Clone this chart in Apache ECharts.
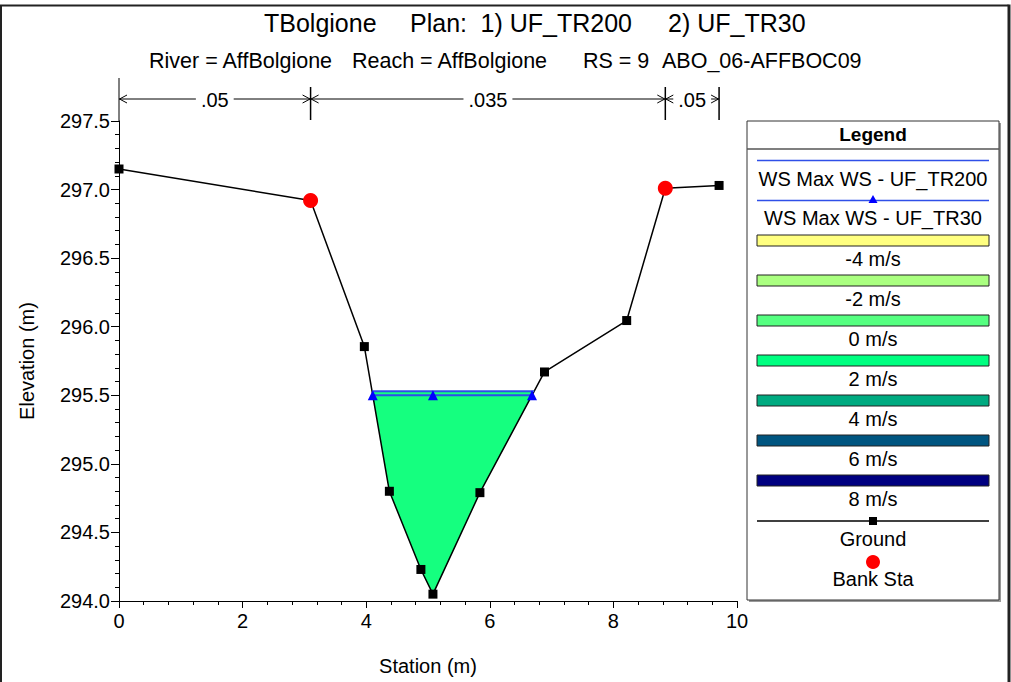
<!DOCTYPE html>
<html><head><meta charset="utf-8">
<script src="https://cdn.jsdelivr.net/npm/echarts@6/dist/echarts.min.js"></script>
<style>html,body{margin:0;padding:0;background:#fff}#c{width:1011px;height:682px}</style>
</head><body><div id="c"></div>
<script>
const FONT = '"Liberation Sans", Arial, Helvetica, sans-serif';

// ---- data ----
const stations   = [0, 3.10, 3.97, 4.375, 4.885, 5.08, 5.84, 6.885, 8.215, 8.84, 9.71];
const elevations = [297.15, 296.92, 295.855, 294.80, 294.23, 294.05, 294.79, 295.67, 296.045, 297.01, 297.03];
const bankStations   = [3.10, 8.84];
const bankElevations = [296.92, 297.01];
const wsTR200 = 295.53;
const wsTR30  = 295.50;
const nBreaks = [0, 3.10, 8.84, 9.71];
const nValues = ['.05', '.035', '.05'];
const titleParts = ['TBolgione', 'Plan:', '1) UF_TR200', '2) UF_TR30'];
const subtitleParts = ['River = AffBolgione', 'Reach = AffBolgione', 'RS = 9', 'ABO_06-AFFBOC09'];
const velocityLabels = ['-4 m/s', '-2 m/s', '0 m/s', '2 m/s', '4 m/s', '6 m/s', '8 m/s'];
const velocityColors = ['#ffff80', '#aaff80', '#55ff80', '#00ff80', '#00aa80', '#005580', '#000080'];

// ---- derived geometry ----
function wsEdges(ws) {
  let left = null, right = null, li = -1, ri = -1;
  for (let i = 0; i < stations.length - 1; i++) {
    const e0 = elevations[i], e1 = elevations[i + 1];
    if (left === null && e0 >= ws && e1 < ws) {
      left = stations[i] + (e0 - ws) / (e0 - e1) * (stations[i + 1] - stations[i]); li = i;
    }
    if (e0 < ws && e1 >= ws) {
      right = stations[i] + (ws - e0) / (e1 - e0) * (stations[i + 1] - stations[i]); ri = i;
    }
  }
  return { left, right, li, ri };
}
const e200 = wsEdges(wsTR200), e30 = wsEdges(wsTR30);
const thalwegIdx = elevations.indexOf(Math.min(...elevations));
const waterPoly = [[e200.left, wsTR200]];
for (let i = e200.li + 1; i <= e200.ri; i++) waterPoly.push([stations[i], elevations[i]]);
waterPoly.push([e200.right, wsTR200]);

const BLUE = '#2f4fe8';
const chart = echarts.init(document.getElementById('c'), null, { renderer: 'svg' });

const nSegs = nValues.map((v, i) => [nBreaks[i], nBreaks[i + 1], v]);
const measure = (() => { const c = document.createElement('canvas').getContext('2d'); c.font = '20px ' + FONT; return t => c.measureText(t).width; })();

const legendX = 747, legendW = 252, legendTop = 121, legendH = 479, lcx = legendX + legendW / 2;
const graphics = [
  { type: 'polyline', shape: { points: [[1, 682], [1, 5.5], [1008.5, 5.5]] }, style: { stroke: '#222', lineWidth: 2, fill: null } },
  { type: 'line', shape: { x1: 1009, y1: 4.5, x2: 1009, y2: 682 }, style: { stroke: '#222', lineWidth: 3 } },
  { type: 'rect', shape: { x: legendX + 2, y: legendTop + 2, width: legendW, height: legendH }, style: { fill: '#999' } },
  { type: 'rect', shape: { x: legendX, y: legendTop, width: legendW, height: legendH }, style: { fill: '#fff', stroke: '#333', lineWidth: 1 } },
  { type: 'line', shape: { x1: legendX, y1: 149, x2: legendX + legendW, y2: 149 }, style: { stroke: '#555', lineWidth: 1.5 } },
  { type: 'text', x: lcx, y: 134, style: { text: 'Legend', font: 'bold 19px ' + FONT, fill: '#000', align: 'center', verticalAlign: 'middle' } },
  { type: 'line', shape: { x1: 757, y1: 160.5, x2: 989, y2: 160.5 }, style: { stroke: BLUE, lineWidth: 1.5 } },
  { type: 'text', x: lcx, y: 179, style: { text: 'WS Max WS - UF_TR200', font: '20px ' + FONT, fill: '#000', align: 'center', verticalAlign: 'middle' } },
  { type: 'line', shape: { x1: 757, y1: 200.5, x2: 989, y2: 200.5 }, style: { stroke: BLUE, lineWidth: 1.5 } },
  { type: 'polygon', shape: { points: [[lcx - 4.5, 203], [lcx + 4.5, 203], [lcx, 195]] }, style: { fill: '#0000ff' } },
  { type: 'text', x: lcx, y: 218, style: { text: 'WS Max WS - UF_TR30', font: '20px ' + FONT, fill: '#000', align: 'center', verticalAlign: 'middle' } },
];
velocityLabels.forEach((lab, i) => {
  const y0 = 235 + i * 40;
  graphics.push({ type: 'rect', shape: { x: 757, y: y0, width: 232, height: 11 }, style: { fill: velocityColors[i], stroke: '#222', lineWidth: 1 } });
  graphics.push({ type: 'text', x: lcx, y: y0 + 24, style: { text: lab, font: '20px ' + FONT, fill: '#000', align: 'center', verticalAlign: 'middle' } });
});
graphics.push(
  { type: 'line', shape: { x1: 757, y1: 521, x2: 989, y2: 521 }, style: { stroke: '#000', lineWidth: 1.5 } },
  { type: 'rect', shape: { x: lcx - 4, y: 517, width: 8, height: 8 }, style: { fill: '#000' } },
  { type: 'text', x: lcx, y: 539, style: { text: 'Ground', font: '20px ' + FONT, fill: '#000', align: 'center', verticalAlign: 'middle' } },
  { type: 'circle', shape: { cx: lcx, cy: 562, r: 7 }, style: { fill: '#ff0000' } },
  { type: 'text', x: lcx, y: 579, style: { text: 'Bank Sta', font: '20px ' + FONT, fill: '#000', align: 'center', verticalAlign: 'middle' } }
);
const titleX = [264, 410, 632, 668];
const titleAlign = ['left', 'left', 'right', 'left'];
titleParts.forEach((t, i) => graphics.push({ type: 'text', x: titleX[i], y: 23, style: { text: t, font: '25px ' + FONT, fill: '#000', align: titleAlign[i], verticalAlign: 'middle' } }));
const subX = [149, 352, 583, 662];
subtitleParts.forEach((t, i) => graphics.push({ type: 'text', x: subX[i], y: 61, style: { text: t, font: '21.5px ' + FONT, fill: '#000', align: 'left', verticalAlign: 'middle' } }));

const groundData = stations.map((s, i) => {
  const isBank = bankStations.indexOf(s) >= 0;
  return isBank ? { value: [s, elevations[i]], symbol: 'none' } : [s, elevations[i]];
});

const option = {
  animation: false,
  backgroundColor: '#fff',
  textStyle: { fontFamily: FONT },
  grid: { left: 119, right: 274, top: 121, bottom: 81, containLabel: false },
  xAxis: {
    type: 'value', min: 0, max: 10, interval: 2,
    name: 'Station (m)', nameLocation: 'middle', nameGap: 55,
    nameTextStyle: { color: '#000', fontSize: 20, fontFamily: FONT },
    axisLine: { show: true, onZero: false, lineStyle: { color: '#000', width: 1 } },
    axisTick: { show: true, length: 7, lineStyle: { color: '#000' } },
    minorTick: { show: true, splitNumber: 5, length: 4, lineStyle: { color: '#000' } },
    axisLabel: { color: '#000', fontSize: 20, margin: 10, fontFamily: FONT },
    splitLine: { show: false }
  },
  yAxis: {
    type: 'value', min: 294, max: 297.5, interval: 0.5,
    name: 'Elevation (m)', nameLocation: 'middle', nameGap: 82, nameRotate: 90,
    nameTextStyle: { color: '#000', fontSize: 20, fontFamily: FONT },
    axisLine: { show: true, lineStyle: { color: '#000', width: 1 } },
    axisTick: { show: true, length: 8, lineStyle: { color: '#000' } },
    minorTick: { show: true, splitNumber: 5, length: 4, lineStyle: { color: '#000' } },
    axisLabel: { color: '#000', fontSize: 20, margin: 9, fontFamily: FONT, formatter: v => v.toFixed(1) },
    splitLine: { show: false }
  },
  graphic: graphics,
  series: [
    {
      name: 'Velocity', type: 'custom', z: 1, silent: true,
      data: [0],
      renderItem: (params, api) => ({
        type: 'polygon',
        shape: { points: waterPoly.map(p => api.coord(p)) },
        style: { fill: '#15ff7f', stroke: null }
      })
    },
    {
      name: 'n values', type: 'custom', z: 2, silent: true, clip: false,
      data: nSegs.map(s => [s[0], s[1]]),
      renderItem: (params, api) => {
        const i = params.dataIndex;
        const top = api.coord([0, 297.5])[1];
        const x0 = api.coord([api.value(0), 297.5])[0];
        const x1 = api.coord([api.value(1), 297.5])[0];
        const y = top - 22;
        const label = nValues[i];
        const tw = measure(label);
        const cx = (x0 + x1) / 2;
        const children = [];
        const ls = { stroke: '#000', lineWidth: 1 };
        const g0 = cx - tw / 2 - 5, g1 = cx + tw / 2 + 5;
        if (g0 > x0 + 1) children.push({ type: 'line', shape: { x1: x0, y1: y, x2: g0, y2: y }, style: ls });
        if (g1 < x1 - 1) children.push({ type: 'line', shape: { x1: g1, y1: y, x2: x1, y2: y }, style: ls });
        children.push({ type: 'polyline', shape: { points: [[x0 + 8, y - 4], [x0 + 0.5, y], [x0 + 8, y + 4]] }, style: { stroke: '#000', lineWidth: 1, fill: null } });
        children.push({ type: 'polyline', shape: { points: [[x1 - 8, y - 4], [x1 - 0.5, y], [x1 - 8, y + 4]] }, style: { stroke: '#000', lineWidth: 1, fill: null } });
        children.push({ type: 'text', x: cx, y: y + 1, style: { text: label, font: '20px ' + FONT, fill: '#000', align: 'center', verticalAlign: 'middle' } });
        children.push({ type: 'line', shape: { x1: x1, y1: top - 34, x2: x1, y2: top - 1 }, style: { stroke: '#000', lineWidth: 1.5 } });
        if (i === 0) children.push({ type: 'line', shape: { x1: x0, y1: top - 43, x2: x0, y2: top }, style: { stroke: '#000', lineWidth: 1 } });
        return { type: 'group', children };
      }
    },
    {
      name: 'Ground', type: 'line', z: 3, clip: false,
      data: groundData,
      symbol: 'rect', symbolSize: 9, showAllSymbol: true,
      lineStyle: { color: '#000', width: 1.5 }, itemStyle: { color: '#000' }
    },
    {
      name: 'WS Max WS - UF_TR200', type: 'line', z: 4,
      data: [[e200.left, wsTR200], [e200.right, wsTR200]],
      symbol: 'none', lineStyle: { color: BLUE, width: 2 }
    },
    {
      name: 'WS Max WS - UF_TR30', type: 'line', z: 4,
      data: [[e30.left, wsTR30], [stations[thalwegIdx], wsTR30], [e30.right, wsTR30]],
      symbol: 'triangle', symbolSize: 10, showAllSymbol: true,
      lineStyle: { color: BLUE, width: 2 }, itemStyle: { color: '#0000ff' }
    },
    {
      name: 'Bank Sta', type: 'scatter', z: 5, clip: false,
      data: bankStations.map((s, i) => [s, bankElevations[i]]),
      symbol: 'circle', symbolSize: 15, itemStyle: { color: '#ff0000', opacity: 1, borderWidth: 0 }
    }
  ]
};
chart.setOption(option);
</script></body></html>
